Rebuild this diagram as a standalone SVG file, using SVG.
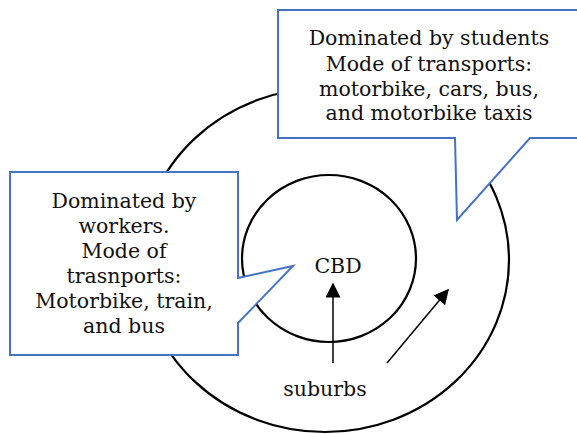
<svg xmlns="http://www.w3.org/2000/svg" width="577" height="434" viewBox="0 0 577 434">
<style>
.ring{fill:none;stroke:#000;stroke-width:2.2}
.callout{fill:#fff;stroke:#4472C4;stroke-width:2}
.t{font-family:"DejaVu Serif","Liberation Serif",serif;font-size:20.5px;fill:#111;text-anchor:middle}
.arr{stroke:#000;stroke-width:1.5;fill:none}
</style>
<defs>
<marker id="ahb" viewBox="0 0 10 10" refX="9" refY="5" markerWidth="15" markerHeight="15" markerUnits="userSpaceOnUse" orient="auto">
<path d="M0,0 L10,5 L0,10 Z" fill="#000"/>
</marker>
</defs>
<rect width="577" height="434" fill="#fff"/>
<g id="suburbs-ring"><ellipse class="ring" cx="325" cy="260" rx="184" ry="172"/></g>
<g id="cbd-ring"><ellipse class="ring" cx="329" cy="258.5" rx="87" ry="83.5"/></g>
<g id="connectors">
<line class="arr" x1="333" y1="363" x2="333" y2="284" marker-end="url(#ahb)"/>
<line class="arr" x1="387" y1="363" x2="448" y2="290" marker-end="url(#ahb)"/>
</g>
<g id="callout-students">
<path class="callout" d="M278,10 L580,10 L580,138 L530,138 L457,220 L455,138 L278,138 Z"/>
<text class="t" x="429" y="45">Dominated by students</text>
<text class="t" x="429" y="71">Mode of transports:</text>
<text class="t" x="429" y="96">motorbike, cars, bus,</text>
<text class="t" x="429" y="120">and motorbike taxis</text>
</g>
<g id="callout-workers">
<path class="callout" d="M10,172 L238,172 L238,278 L293,266 L238,323 L238,355 L10,355 Z"/>
<text class="t" x="124" y="208">Dominated by</text>
<text class="t" x="124" y="233">workers.</text>
<text class="t" x="124" y="258">Mode of</text>
<text class="t" x="124" y="283">trasnports:</text>
<text class="t" x="124" y="308">Motorbike, train,</text>
<text class="t" x="124" y="333">and bus</text>
</g>
<g id="cbd"><text class="t" x="338" y="273">CBD</text></g>
<g id="suburbs"><text class="t" x="325" y="396">suburbs</text></g>
</svg>
